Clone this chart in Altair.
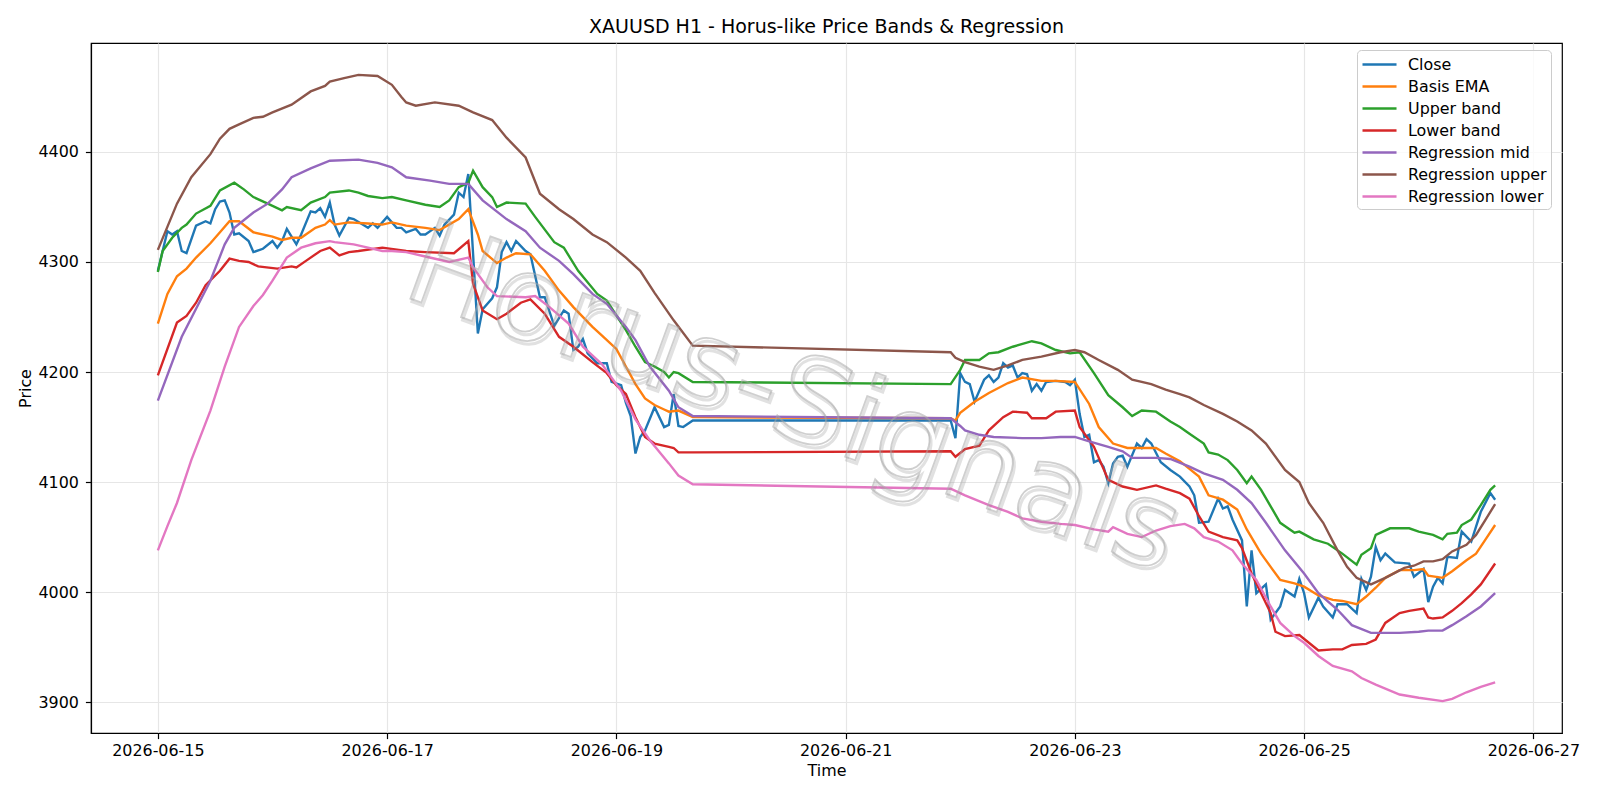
import altair as alt
import pandas as pd

# hours after 2026-06-15 00:00 UTC, price
CLOSE = [(0,4292),(2,4328),(3,4325),(4,4328),(5,4310),(6,4308),(8,4333),(10,4337),(11,4335),(12,4348),
(13,4355),(14,4356),(15,4345),(16,4325),(17,4326),(19,4319),(20,4309),(22,4312),(24,4319),(25,4313),
(26,4319),(27,4330),(29,4316),(30,4325),(32,4346),(33,4345),(34,4349),(35,4341),(36,4354),(37,4334),
(38,4324),(40,4340),(41,4339),(44,4331),(45,4335),(46,4331),(48,4341),(50,4331),(51,4331),(52,4327),
(54,4330),(55,4325),(56,4325),(58,4331),(59,4324),(60,4334),(62,4343),(63,4363),(64,4359),(65,4380),
(67,4235),(68,4257),(70,4267),(71,4277),(72,4309),(73,4318),(74,4310),(75,4319),(77,4310),(78,4307),
(80,4268),(81,4268),(83,4242),(85,4256),(86,4253),(87,4220),(88,4223),(89,4230),(90,4217),(92,4208),
(94,4208),(95,4191),(97,4188),(98,4172),(99,4160),(100,4126),(101,4141),(102,4147),(104,4168),(106,4150),
(107,4152),(108,4180),(109,4151),(110,4150),(112,4156),(166,4156),(167,4140),(168,4199),(169,4191),(170,4189),
(171,4173),(172,4183),(173,4193),(174,4197),(175,4191),(176,4195),(177,4208),(178,4204),(179,4206),(180,4195),
(181,4199),(182,4198),(183,4183),(184,4189),(185,4183),(186,4191),(188,4192),(190,4191),(191,4188),(192,4193),
(193,4162),(194,4141),(195,4143),(196,4118),(197,4120),(198,4114),(199,4099),(200,4117),(201,4123),(202,4124),
(203,4114),(205,4135),(206,4131),(207,4139),(208,4135),(210,4118),(212,4111),(214,4105),(216,4096),(217,4088),
(218,4063),(220,4064),(222,4085),(223,4076),(224,4078),(225,4066),(227,4047),(228,3987),(229,4038),(230,3999),
(232,4007),(233,3975),(235,3987),(236,4002),(238,3996),(239,4012),(240,3999),(241,3977),(243,3995),(244,3987),
(246,3977),(247,3989),(249,3989),(251,3981),(252,4012),(253,4002),(254,4014),(255,4041),(256,4029),(257,4035),
(259,4027),(262,4026),(263,4014),(265,4021),(266,3991),(267,4005),(268,4013),(269,4008),(270,4032),(272,4031),
(273,4055),(275,4046),(277,4073),(279,4090),(280,4084)]

BASIS_EMA = [(0,4244),(2,4271),(4,4287),(6,4294),(8,4304),(11,4317),(13,4327),(15,4337),(17,4337),(20,4327),
(24,4323),(26,4320),(28,4322),(30,4322),(33,4331),(35,4334),(36,4338),(37,4334),(40,4336),(44,4335),
(47,4334),(49,4336),(52,4333),(56,4331),(59,4329),(63,4339),(65,4348),(67,4325),(68,4310),(71,4299),
(73,4304),(75,4308),(78,4307),(81,4292),(84,4274),(87,4259),(91,4241),(93,4233),(96,4221),(98,4205),
(100,4189),(102,4176),(104,4170),(106,4166),(107,4164),(109,4165),(112,4159),(166,4158),(167,4156),(168,4163),
(171,4173),(174,4181),(178,4190),(181,4195),(185,4192),(188,4192),(192,4191),(195,4171),(197,4150),(200,4135),
(203,4131),(206,4131),(209,4131),(211,4126),(214,4119),(218,4105),(220,4088),(223,4084),(226,4075),(228,4057),
(231,4035),(233,4023),(235,4011),(238,4008),(240,4005),(243,3997),(246,3993),(248,3992),(251,3989),(253,3996),
(255,4004),(257,4013),(260,4020),(263,4020),(265,4021),(266,4015),(269,4013),(271,4019),(274,4029),(276,4035),
(278,4048),(280,4061)]

UPPER_BAND = [(0,4291),(1,4310),(3,4322),(5,4331),(6,4334),(8,4344),(11,4351),(13,4365),(16,4372),(18,4366),
(20,4359),(23,4353),(26,4347),(27,4350),(30,4347),(32,4354),(35,4359),(36,4363),(40,4365),(42,4363),
(44,4360),(47,4358),(49,4359),(52,4356),(56,4352),(59,4350),(61,4356),(63,4368),(65,4372),(66,4383),
(68,4368),(70,4359),(71,4350),(73,4354),(77,4353),(79,4341),(83,4318),(85,4313),(88,4292),(92,4271),
(94,4265),(98,4238),(100,4223),(102,4209),(104,4205),(106,4200),(107,4195),(108,4200),(109,4199),(112,4191),
(166,4189),(168,4202),(169,4211),(172,4211),(174,4217),(176,4218),(179,4223),(183,4228),(185,4226),(188,4220),
(191,4217),(193,4218),(196,4199),(199,4179),(202,4168),(204,4160),(206,4165),(209,4164),(212,4155),(214,4150),
(216,4144),(219,4135),(220,4127),(222,4125),(224,4120),(226,4111),(228,4099),(229,4105),(231,4093),(233,4078),
(235,4063),(238,4054),(239,4055),(242,4048),(245,4044),(248,4035),(251,4025),(252,4034),(254,4040),(255,4052),
(258,4058),(262,4058),(264,4055),(267,4052),(269,4048),(270,4053),(272,4054),(273,4061),(275,4066),(277,4079),
(279,4093),(280,4097)]

LOWER_BAND = [(0,4197),(1,4209),(4,4245),(6,4251),(8,4263),(10,4279),(13,4292),(15,4303),(17,4301),(19,4300),
(21,4296),(25,4294),(28,4296),(29,4295),(31,4301),(34,4310),(36,4313),(38,4306),(40,4309),(42,4310),
(47,4313),(52,4310),(56,4309),(62,4308),(65,4319),(66,4280),(68,4256),(71,4248),(73,4253),(76,4263),
(78,4266),(81,4253),(84,4232),(87,4223),(91,4209),(94,4199),(96,4188),(98,4180),(100,4159),(102,4141),
(104,4135),(107,4132),(108,4131),(109,4127),(112,4127),(166,4128),(167,4123),(169,4130),(172,4133),(174,4147),
(177,4159),(179,4164),(182,4163),(183,4158),(186,4158),(188,4164),(192,4165),(193,4150),(196,4132),(199,4102),
(202,4096),(205,4093),(209,4097),(211,4094),(214,4090),(216,4085),(218,4069),(220,4055),(223,4050),(226,4047),
(227,4040),(229,4017),(231,3999),(233,3981),(234,3964),(236,3960),(239,3961),(241,3954),(243,3947),(246,3948),
(248,3948),(250,3952),(253,3953),(255,3957),(257,3972),(260,3981),(262,3983),(265,3985),(266,3977),(267,3976),
(269,3977),(271,3983),(273,3990),(275,3998),(277,4007),(280,4026)]

REG_MID = [(0,4174),(5,4232),(11,4283),(14,4316),(16,4331),(20,4345),(23,4353),(26,4366),(28,4377),(32,4385),
(36,4392),(42,4393),(46,4390),(49,4386),(52,4377),(57,4374),(61,4371),(65,4371),(68,4356),(73,4339),
(77,4328),(80,4313),(84,4301),(87,4289),(91,4271),(94,4262),(98,4241),(100,4229),(103,4205),(107,4183),
(109,4168),(112,4160),(166,4158),(168,4151),(169,4147),(172,4143),(175,4141),(181,4140),(185,4140),(189,4141),
(192,4141),(195,4137),(199,4132),(202,4128),(204,4122),(209,4122),(212,4121),(216,4114),(219,4108),(223,4102),
(226,4093),(229,4081),(232,4063),(236,4038),(240,4017),(243,3999),(247,3984),(250,3970),(254,3963),(260,3963),
(264,3964),(266,3965),(269,3965),(271,3970),(274,3978),(277,3987),(280,3999)]

REG_UPPER = [(0,4311),(4,4353),(7,4377),(11,4398),(13,4412),(15,4421),(17,4425),(20,4431),(22,4432),(24,4436),
(28,4443),(32,4455),(35,4460),(36,4464),(39,4467),(42,4470),(46,4469),(49,4461),(51,4450),(52,4445),
(54,4442),(58,4445),(63,4442),(66,4436),(70,4429),(73,4413),(77,4395),(80,4362),(84,4348),(87,4339),
(91,4325),(94,4318),(98,4304),(101,4292),(104,4272),(108,4247),(112,4224),(166,4218),(167,4213),(169,4209),
(172,4205),(175,4202),(178,4206),(181,4211),(185,4214),(189,4218),(192,4220),(194,4218),(197,4211),(201,4202),
(204,4193),(208,4189),(211,4184),(214,4180),(216,4177),(219,4170),(223,4162),(226,4155),(229,4147),(232,4135),
(236,4111),(239,4100),(241,4081),(244,4063),(247,4038),(249,4023),(251,4013),(254,4007),(257,4013),(261,4022),
(263,4024),(265,4028),(267,4028),(269,4030),(271,4037),(274,4043),(276,4052),(278,4066),(280,4080)]

REG_LOWER = [(0,4038),(2,4060),(4,4081),(7,4120),(11,4165),(14,4205),(17,4241),(20,4260),(22,4270),(24,4283),
(27,4304),(30,4313),(33,4317),(36,4319),(37,4318),(41,4316),(44,4313),(47,4310),(49,4310),(52,4309),
(56,4305),(61,4300),(65,4304),(66,4295),(69,4277),(71,4269),(77,4268),(79,4269),(82,4259),(86,4244),
(89,4223),(93,4207),(97,4183),(100,4157),(103,4138),(107,4117),(109,4106),(112,4098),(166,4094),(168,4090),
(169,4088),(174,4079),(178,4073),(181,4067),(185,4064),(189,4062),(192,4061),(196,4057),(199,4055),(200,4059),
(203,4053),(206,4050),(209,4056),(212,4060),(215,4062),(217,4058),(219,4050),(222,4046),(225,4038),(227,4026),
(230,4011),(233,3987),(235,3972),(238,3960),(240,3954),(243,3942),(246,3933),(250,3928),(252,3922),(255,3916),
(260,3907),(264,3904),(269,3901),(271,3903),(274,3909),(277,3914),(280,3918)]

SERIES_NAMES = ["Close", "Basis EMA", "Upper band", "Lower band",
                "Regression mid", "Regression upper", "Regression lower"]
SERIES_COLORS = ["#1f77b4", "#ff7f0e", "#2ca02c", "#d62728", "#9467bd", "#8c564b", "#e377c2"]
SERIES_DATA = [CLOSE, BASIS_EMA, UPPER_BAND, LOWER_BAND, REG_MID, REG_UPPER, REG_LOWER]

X_TICK_HOURS = [0, 48, 96, 144, 192, 240, 288]
Y_TICKS = [3900, 4000, 4100, 4200, 4300, 4400]
X_DOMAIN_HOURS = [-14, 294]
Y_DOMAIN = [3872, 4499]

T0 = pd.Timestamp("2026-06-15T00:00:00", tz="UTC")


def ms(h):
    return int((T0 + pd.Timedelta(hours=h)).value // 10**6)


rows = []
for name, pts in zip(SERIES_NAMES, SERIES_DATA):
    for i, (h, v) in enumerate(pts):
        rows.append({"series": name, "t": ms(h), "price": v, "i": i})
df = pd.DataFrame(rows)

FONT = "DejaVu Sans"
FS = 15.9
LW = 2.38

x_enc = alt.X("t:T", title="Time",
              scale=alt.Scale(type="utc", domain=[ms(X_DOMAIN_HOURS[0]), ms(X_DOMAIN_HOURS[1])]),
              axis=alt.Axis(values=[ms(h) for h in X_TICK_HOURS], format="%Y-%m-%d",
                            labelAngle=0))
y_enc = alt.Y("price:Q", title="Price",
              scale=alt.Scale(domain=Y_DOMAIN, zero=False, nice=False),
              axis=alt.Axis(values=Y_TICKS, format="d"))
color_enc = alt.Color("series:N",
                      scale=alt.Scale(domain=SERIES_NAMES, range=SERIES_COLORS),
                      legend=alt.Legend(title=None))

layers = []
for name in SERIES_NAMES:
    layers.append(
        alt.Chart(df).transform_filter(alt.datum.series == name)
        .mark_line(strokeWidth=LW, clip=True)
        .encode(x=x_enc, y=y_enc, color=color_enc, order="i:Q")
    )

wm = pd.DataFrame({"t": [ms(133)], "price": [4174], "label": ["Horus-Signals"]})
wm_shadow = alt.Chart(wm).mark_text(
    font=FONT, fontSize=118, angle=20, align="center", baseline="middle", dx=2.5, dy=2.5,
    fillOpacity=0, stroke="#888888", strokeOpacity=0.25, strokeWidth=3
).encode(x="t:T", y="price:Q", text="label:N")
watermark = alt.Chart(wm).mark_text(
    font=FONT, fontSize=118, angle=20, align="center", baseline="middle",
    fillOpacity=0, stroke="#a8a8a8", strokeOpacity=0.55, strokeWidth=1.8
).encode(x="t:T", y="price:Q", text="label:N")

chart = alt.layer(*layers, wm_shadow, watermark).properties(
    width=1471, height=690,
    title=alt.TitleParams("XAUUSD H1 - Horus-like Price Bands & Regression",
                          font=FONT, fontSize=19, fontWeight="normal", color="black",
                          anchor="middle", offset=6.5),
    autosize=alt.AutoSizeParams(type="none"),
    padding={"left": 91, "top": 43, "right": 38, "bottom": 67},
).configure_view(
    stroke="black", strokeWidth=1.2
).configure_axis(
    labelFont=FONT, labelFontSize=FS, labelColor="black",
    titleFont=FONT, titleFontSize=FS, titleColor="black", titleFontWeight="normal",
    grid=True, gridColor="#e6e6e6", gridWidth=1.2,
    domainColor="black", domainWidth=1.2,
    tickColor="black", tickWidth=1.2, tickSize=5.6,
).configure_axisX(
    labelPadding=4, titlePadding=4
).configure_axisY(
    labelPadding=7, titlePadding=4
).configure_legend(
    orient="none", legendX=1266, legendY=7,
    symbolType="M-1,0H2.78", symbolSize=324, symbolStrokeWidth=LW,
    labelFont=FONT, labelFontSize=FS, labelColor="black", labelOffset=26,
    strokeColor="#cccccc", fillColor="rgba(255,255,255,0.8)", cornerRadius=4,
    padding=4, rowPadding=3, labelLimit=300
)

chart.save("out.html", embed_options={"renderer": "svg", "actions": False})
